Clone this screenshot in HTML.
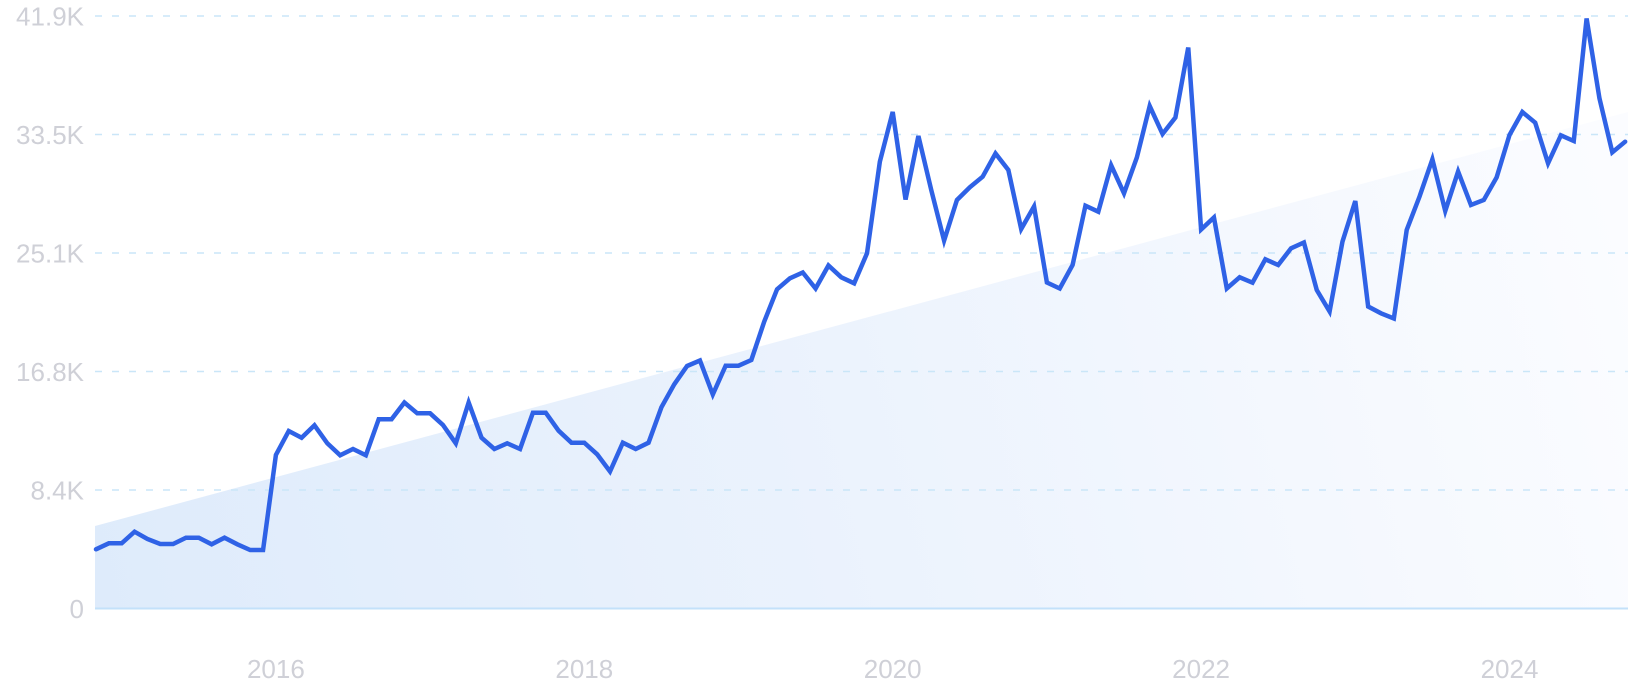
<!DOCTYPE html>
<html>
<head>
<meta charset="utf-8">
<style>
  html,body{margin:0;padding:0;background:#fff;}
  body{width:1632px;height:700px;overflow:hidden;}
  svg{display:block;}
  text{font-family:"Liberation Sans","DejaVu Sans",sans-serif;fill:#cfd0d7;font-size:26px;}
</style>
</head>
<body>
<svg width="1632" height="700" viewBox="0 0 1632 700" xmlns="http://www.w3.org/2000/svg">
  <defs>
    <linearGradient id="ag" gradientUnits="userSpaceOnUse" x1="95" y1="620" x2="1628" y2="250">
      <stop offset="0" stop-color="#deebfb"/>
      <stop offset="0.5" stop-color="#ecf3fd"/>
      <stop offset="1" stop-color="#fbfcff"/>
    </linearGradient>
  </defs>

  <!-- trend area -->
  <polygon points="95,526 1628,112 1628,608.5 95,608.5" fill="url(#ag)"/>

  <!-- grid -->
  <g stroke="#cae6f8" stroke-width="1.5" stroke-dasharray="7 10">
    <line x1="95" y1="16" x2="1628" y2="16"/>
    <line x1="95" y1="134.5" x2="1628" y2="134.5"/>
    <line x1="95" y1="253" x2="1628" y2="253"/>
    <line x1="95" y1="371.5" x2="1628" y2="371.5"/>
    <line x1="95" y1="490" x2="1628" y2="490"/>
  </g>
  <line x1="95" y1="608.5" x2="1628" y2="608.5" stroke="#c3e1fa" stroke-width="2"/>

  <!-- y labels -->
  <g text-anchor="end">
    <text x="84" y="25.5">41.9K</text>
    <text x="84" y="144">33.5K</text>
    <text x="84" y="262.5">25.1K</text>
    <text x="84" y="381">16.8K</text>
    <text x="84" y="499.5">8.4K</text>
    <text x="84" y="618">0</text>
  </g>

  <!-- x labels -->
  <g text-anchor="middle">
    <text x="275.9" y="678">2016</text>
    <text x="584.3" y="678">2018</text>
    <text x="892.7" y="678">2020</text>
    <text x="1201.1" y="678">2022</text>
    <text x="1509.5" y="678">2024</text>
  </g>

  <!-- series -->
  <polyline fill="none" stroke="#2f62e6" stroke-width="4.5" stroke-linejoin="miter" stroke-miterlimit="4" stroke-linecap="round"
  points="96,549.3 108.85,543.3 121.7,543.3 134.55,531.7 147.4,539 160.25,544 173.1,544 185.95,537.7 198.8,537.7 211.65,544.3 224.5,537.7 237.35,544.3 250.2,550 263.05,550 275.9,455 288.75,431 301.6,437.7 314.45,425.3 327.3,443.3 340.15,455.3 353,449 365.85,455.3 378.7,419.3 391.55,419.3 404.4,402.5 417.25,413.3 430.1,413.3 442.95,425 455.8,443.3 468.65,402.5 481.5,437.7 494.35,449 507.2,443.3 520.05,449 532.9,412.7 545.75,412.7 558.6,430.7 571.45,442.7 584.3,442.7 597.15,454.3 610,471.5 622.85,442.7 635.7,449 648.55,442.7 661.4,407.3 674.25,384.3 687.1,366 699.95,360.5 712.8,394.5 725.65,365.7 738.5,365.7 751.35,360 764.2,321.7 777.05,289.3 789.9,278.3 802.75,272.5 815.6,288.5 828.45,265.5 841.3,277.3 854.15,283.3 867,253.3 879.85,161.7 892.7,112 905.55,199.5 918.4,136 931.25,190 944.1,240.5 956.95,200 969.8,187.3 982.65,176.7 995.5,153.5 1008.35,170 1021.2,229 1034.05,206.5 1046.9,282.5 1059.75,288.5 1072.6,265 1085.45,205.7 1098.3,211.7 1111.15,165.3 1124,193.3 1136.85,157.5 1149.7,106 1162.55,134 1175.4,117.5 1188.25,47.5 1201.1,229.5 1213.95,217.5 1226.8,288.5 1239.65,277.3 1252.5,282.7 1265.35,259.3 1278.2,265 1291.05,248.3 1303.9,242.5 1316.75,290 1329.6,311.5 1342.45,241.7 1355.3,201 1368.15,306.5 1381,313.3 1393.85,318.5 1406.7,230 1419.55,196.5 1432.4,159.3 1445.25,211 1458.1,171.5 1470.95,205 1483.8,200 1496.65,177.3 1509.5,135 1522.35,112 1535.2,122.7 1548.05,163.3 1560.9,135.3 1573.75,141 1586.6,18.5 1599.45,98.3 1612.3,152.3 1625.15,141.7"/>
</svg>
</body>
</html>
